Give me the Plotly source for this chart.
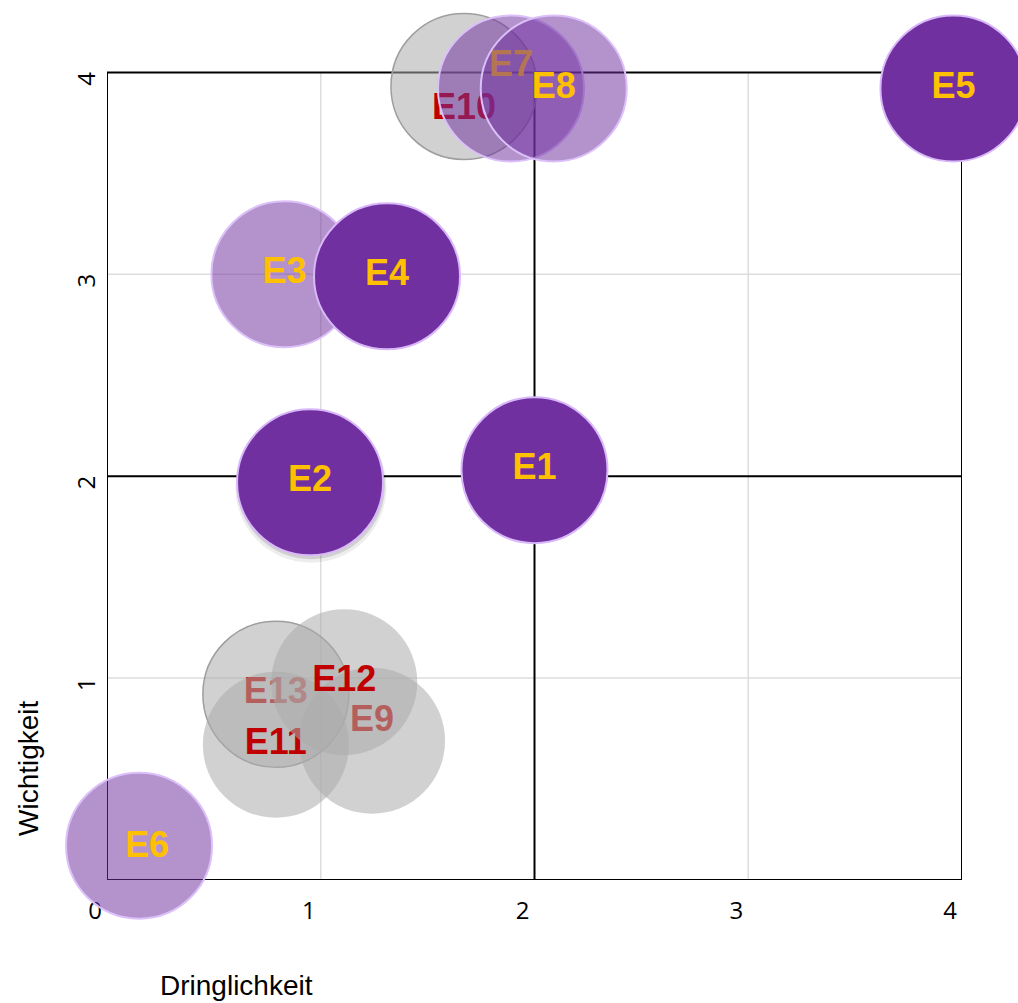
import plotly.graph_objects as go

# Ereignisse: Dringlichkeit (x) und Wichtigkeit (y)
labels = ["E1", "E2", "E3", "E4", "E5", "E6", "E7",
          "E8", "E9", "E10", "E11", "E12", "E13"]
dringlichkeit = [2.00, 0.95, 0.83, 1.31, 3.96, 0.15, 1.89,
                 2.09, 1.24, 1.67, 0.79, 1.11, 0.79]
wichtigkeit = [2.03, 1.97, 3.00, 2.99, 3.92, 0.17, 3.92,
               3.92, 0.69, 3.93, 0.67, 0.98, 0.92]
gruppe = ["voll", "voll", "hell", "voll", "voll", "hell", "hell",
          "hell", "grau", "grau_rand", "grau", "grau", "grau_rand"]

axis_ticks = [0, 1, 2, 3, 4]
x_tick_labels = ["0", "1", "2", "3", "4"]
y_tick_labels = ["", "1", "2", "3", "4"]
zeichenfolge = ["E13", "E9", "E11", "E12", "E6", "E3", "E4",
                "E2", "E1", "E10", "E7", "E8", "E5"]
# label offsets in pixels (dx positive = right, dy positive = up)
label_shift_px = {"E7": (0, 22), "E9": (0, 19), "E10": (0, -23), "E6": (8, -2)}

W, H = 1018, 1003
PX_PER_UNIT_Y = 202
PX_PER_UNIT_X = 213.75
Y_HEADROOM = 0.2  # room above the frame so raised labels stay inside the range
y_top = axis_ticks[-1] + Y_HEADROOM
M = dict(l=107, r=56, b=123)
M["t"] = round(H - M["b"] - PX_PER_UNIT_Y * (y_top - axis_ticks[0]))

PURPLE = "#7030A0"
styles = {
    "voll": dict(fill=PURPLE, line="#D9B8FA", lw=2, text="#FFC000"),
    "hell": dict(fill="rgba(112,48,160,0.52)", line="#DCC0FA", lw=2, text="#FFC000"),
    "grau": dict(fill="rgba(172,172,172,0.55)", line="rgba(0,0,0,0)", lw=0, text="#C00000"),
    "grau_rand": dict(fill="rgba(172,172,172,0.55)", line="#9E9E9E", lw=1.5, text="#C00000"),
}
BUBBLE = 146
label_font = dict(family="Liberation Sans, Arial", size=36, weight="bold")

fig = go.Figure()

for name in zeichenfolge:
    i = labels.index(name)
    x, y, st = dringlichkeit[i], wichtigkeit[i], styles[gruppe[i]]
    if name == "E2":
        # soft drop shadow under E2
        for off, grow, a in [(5, 5, 0.07), (3, 2, 0.12)]:
            fig.add_trace(go.Scatter(
                x=[x + 0.004], y=[y - off / PX_PER_UNIT_Y], mode="markers",
                marker=dict(size=BUBBLE + grow, color=f"rgba(0,0,0,{a})",
                            line=dict(width=0)),
                hoverinfo="skip", showlegend=False, cliponaxis=False))
    fig.add_trace(go.Scatter(
        x=[x], y=[y], mode="markers", name=name,
        marker=dict(size=BUBBLE, color=st["fill"],
                    line=dict(color=st["line"], width=st["lw"])),
        showlegend=False, cliponaxis=False))
    dx, dy = label_shift_px.get(name, (0, 0))
    fig.add_trace(go.Scatter(
        x=[x + dx / PX_PER_UNIT_X], y=[y + dy / PX_PER_UNIT_Y],
        mode="text", text=[name], textposition="middle center",
        textfont=dict(color=st["text"], **label_font),
        hoverinfo="skip", showlegend=False, cliponaxis=False))

# quadrant grid: light lines first, black lines and frame on top
lo, hi = axis_ticks[0], axis_ticks[-1]
mid = axis_ticks[len(axis_ticks) // 2]
for v in axis_ticks:
    if v in (lo, mid, hi):
        continue
    for kw in (dict(x0=v, x1=v, y0=lo, y1=hi), dict(x0=lo, x1=hi, y0=v, y1=v)):
        fig.add_shape(type="line", xref="x", yref="y", layer="below",
                      line=dict(color="#DDDDDD", width=1.5), **kw)
for v in (lo, mid, hi):
    for kw in (dict(x0=v, x1=v, y0=lo, y1=hi), dict(x0=lo, x1=hi, y0=v, y1=v)):
        fig.add_shape(type="line", xref="x", yref="y", layer="below",
                      line=dict(color="black", width=2), **kw)

tick_font = dict(family="Open Sans, Liberation Sans", size=24, color="black")
fig.update_xaxes(range=[lo, hi], tickvals=axis_ticks, ticktext=x_tick_labels,
                 showgrid=False, zeroline=False, showline=False, ticks="",
                 layer="below traces", tickfont=tick_font,
                 ticklabelstandoff=14, ticklabelshift=-12)
fig.update_yaxes(range=[lo, y_top], tickvals=axis_ticks, ticktext=y_tick_labels,
                 showgrid=False, zeroline=False, showline=False, ticks="",
                 layer="below traces", tickangle=-90, tickfont=tick_font,
                 ticklabelstandoff=6, ticklabelshift=10)

# axis titles, placed in plot pixels
plot_w = W - M["l"] - M["r"]
plot_h = H - M["t"] - M["b"]
title_font = dict(family="Liberation Sans, Arial", size=28, color="black")
fig.add_annotation(text="Dringlichkeit", xref="paper", yref="paper",
                   x=(236 - M["l"]) / plot_w, y=-(985 - (H - M["b"])) / plot_h,
                   xanchor="center", yanchor="middle", showarrow=False,
                   font=title_font)
fig.add_annotation(text="Wichtigkeit", xref="paper", yref="paper",
                   x=(28 - M["l"]) / plot_w, y=((H - M["b"]) - 768) / plot_h,
                   xanchor="center", yanchor="middle", textangle=-90,
                   showarrow=False, font=title_font)

fig.update_layout(width=W, height=H, margin=M, plot_bgcolor="white",
                  paper_bgcolor="white", showlegend=False)

fig.write_html("out.html")
